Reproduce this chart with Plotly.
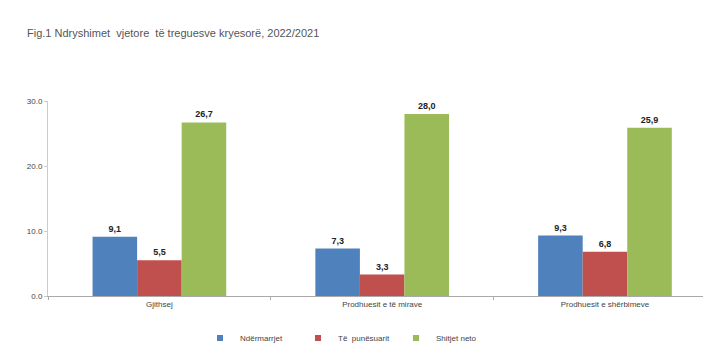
import plotly.graph_objects as go

categories = ["Gjithsej", "Prodhuesit e të mirave", "Prodhuesit e shërbimeve"]
series_names = ["Ndërmarrjet", "Të  punësuarit", "Shitjet neto"]
ndermarrjet = [9.1, 7.3, 9.3]
punesuarit = [5.5, 3.3, 6.8]
shitjet = [26.7, 28.0, 25.9]
colors = ["#4F81BD", "#C0504D", "#9BBB59"]
y_ticks = [0, 10, 20, 30]
y_tick_labels = ["0.0", "10.0", "20.0", "30.0"]

def fmt(v):
    return f"{v:.1f}".replace(".", ",")

fig = go.Figure()
for name, vals, col in zip(series_names, [ndermarrjet, punesuarit, shitjet], colors):
    fig.add_trace(go.Bar(
        x=categories, y=vals, name=name, marker_color=col,
        marker_line_width=0, showlegend=False,
        text=[fmt(v) for v in vals], textposition="outside",
        textfont=dict(family="Liberation Sans", size=9, color="#222222", weight="bold"),
        cliponaxis=False,
    ))
# legend entries with small square symbols
for name, col in zip(series_names, colors):
    fig.add_trace(go.Scatter(
        x=[None], y=[None], mode="markers", name=name,
        marker=dict(symbol="square", size=6, color=col),
    ))

fig.update_layout(
    width=703, height=361,
    margin=dict(l=48, r=0, t=101, b=65),
    paper_bgcolor="white", plot_bgcolor="white",
    barmode="group", bargap=0.4, bargroupgap=0.0,
    font=dict(family="Liberation Sans", color="#444444", size=8),
    title=dict(text="Fig.1 Ndryshimet  vjetore  të treguesve kryesorë, 2022/2021",
               x=27/703, xanchor="left", y=1-33/361, yanchor="middle",
               font=dict(size=11, color="#555555", family="Liberation Sans")),
    legend=dict(orientation="h", x=(200-48)/655, xanchor="left", y=-(338-296)/195, yanchor="middle",
                font=dict(size=8, color="#444444"), itemwidth=30, traceorder="normal",
                entrywidth=53, entrywidthmode="pixels"),
    showlegend=True,
)
fig.update_xaxes(range=[-0.5, 2.44], showline=True, linecolor="#AAAAAA", linewidth=1,
                 ticks="outside", tickson="boundaries", ticklen=3, tickcolor="#AAAAAA",
                 tickfont=dict(size=8, color="#444444"), showgrid=False)
fig.update_yaxes(range=[0, 30], tickvals=y_ticks, ticktext=y_tick_labels,
                 showline=True, linecolor="#CCCCCC", linewidth=1,
                 ticks="outside", ticklen=3, tickcolor="#CCCCCC",
                 tickfont=dict(size=8, color="#444444"), showgrid=False, zeroline=False)

fig.write_html("out.html")
